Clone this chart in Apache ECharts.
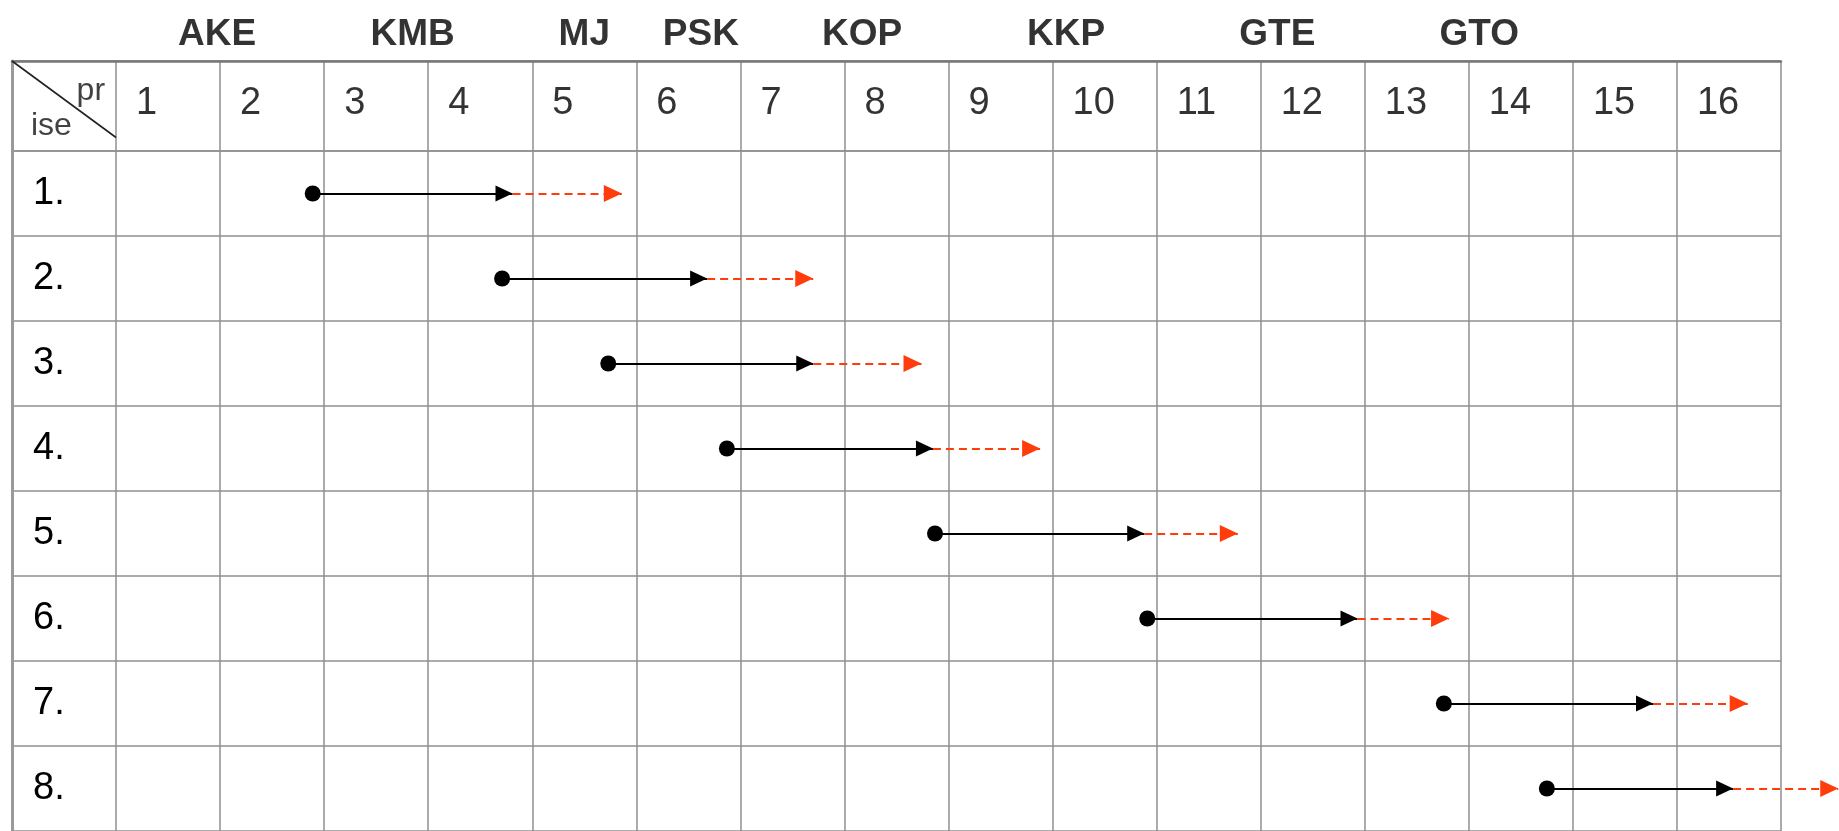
<!DOCTYPE html>
<html><head><meta charset="utf-8">
<script src="https://cdn.jsdelivr.net/npm/echarts@6/dist/echarts.min.js"></script>
<style>html,body{margin:0;padding:0;background:#fff}#c{width:1839px;height:831px}</style>
</head><body><div id="c"></div>
<script>
// ---- data ----
const columns = ['1','2','3','4','5','6','7','8','9','10','11','12','13','14','15','16'];
const rows = ['1.','2.','3.','4.','5.','6.','7.','8.'];
const groupNames = ['AKE','KMB','MJ','PSK','KOP','KKP','GTE','GTO'];
const groupPos = [1.97, 3.85, 5.50, 6.62, 8.17, 10.13, 12.16, 14.10];
const startPos = [2.89, 4.71, 5.73, 6.87, 8.87, 10.91, 13.76, 14.75];
const plannedEnd = [4.81, 6.68, 7.70, 8.85, 10.88, 12.93, 15.77, 16.54];
const delayedEnd = [5.86, 7.70, 8.74, 9.88, 11.78, 13.81, 16.68, 17.55];
const cornerTop = 'pr';
const cornerBottom = 'ise';

// ---- chart ----
const FONT = '"Liberation Sans", Arial, sans-serif';
const GRID_LINE = { color: '#8f8f8f', width: 1.5 };
// square-box symbol: triangle whose tip sits exactly at the symbol centre
const ARROW = 'path://M-17,-17M17,17M0,0L8,17L-8,17Z';
const chart = echarts.init(document.getElementById('c'), null, { renderer: 'canvas' });

const xBase = {
  type: 'value', min: 0, max: columns.length + 1, interval: 1,
  axisTick: { show: false }, axisLabel: { show: false },
  splitLine: { show: true, lineStyle: GRID_LINE }
};

const option = {
  animation: false,
  backgroundColor: '#ffffff',
  grid: [
    { left: 12, right: 58, top: 61, height: 90 },
    { left: 12, right: 58, top: 151, height: 688 }
  ],
  xAxis: [
    Object.assign({}, xBase, { gridIndex: 0, position: 'top',
      axisLine: { show: true, onZero: false, lineStyle: { color: '#777', width: 2.5 } } }),
    Object.assign({}, xBase, { gridIndex: 1, axisLine: { show: false } })
  ],
  yAxis: [
    { type: 'value', gridIndex: 0, min: 0, max: 1, interval: 1, inverse: true,
      axisLine: { show: true, lineStyle: { color: '#9a9a9a', width: 3 } },
      axisTick: { show: false }, axisLabel: { show: false },
      splitLine: { show: true, lineStyle: GRID_LINE } },
    { type: 'category', gridIndex: 1, data: rows, inverse: true,
      axisLine: { show: true, lineStyle: { color: '#9a9a9a', width: 3 } },
      axisTick: { show: false },
      axisLabel: { inside: true, margin: 21, fontSize: 38, color: '#000',
        fontFamily: FONT, verticalAlign: 'middle', padding: [0, 0, 8, 0] },
      splitLine: { show: true, interval: 0, lineStyle: GRID_LINE } }
  ],
  series: [
    // column numbers
    { type: 'scatter', xAxisIndex: 0, yAxisIndex: 0, symbolSize: 0, silent: true,
      data: columns.map((c, i) => ({ value: [i + 1, 0.5], name: c })),
      label: { show: true, position: [0, 0], offset: [20, -2], formatter: p => p.name,
        align: 'left', verticalAlign: 'middle', fontSize: 38, color: '#000', fontFamily: FONT } },
    // group names above the table
    { type: 'scatter', xAxisIndex: 0, yAxisIndex: 0, symbolSize: 0, silent: true, clip: false,
      data: groupNames.map((g, i) => ({ value: [groupPos[i], 0], name: g })),
      label: { show: true, position: [0, 0], offset: [0, -26], formatter: p => p.name,
        align: 'center', verticalAlign: 'middle', fontSize: 37, fontWeight: 'bold',
        color: '#000', fontFamily: FONT } },
    // corner cell texts
    { type: 'scatter', xAxisIndex: 0, yAxisIndex: 0, symbolSize: 0, silent: true,
      data: [{ value: [1, 0], name: cornerTop }],
      label: { show: true, position: [0, 0], offset: [-11, 30], formatter: p => p.name,
        align: 'right', verticalAlign: 'middle', fontSize: 32, color: '#111', fontFamily: FONT } },
    { type: 'scatter', xAxisIndex: 0, yAxisIndex: 0, symbolSize: 0, silent: true,
      data: [{ value: [0, 1], name: cornerBottom }],
      label: { show: true, position: [0, 0], offset: [19, -25], formatter: p => p.name,
        align: 'left', verticalAlign: 'middle', fontSize: 32, color: '#111', fontFamily: FONT } },
    // corner diagonal
    { type: 'lines', coordinateSystem: 'cartesian2d', xAxisIndex: 0, yAxisIndex: 0, silent: true,
      symbol: 'none', lineStyle: { color: '#222', width: 1.6, opacity: 1 },
      data: [{ coords: [[0, 0], [1, 0.85]] }] },
    // planned part (black)
    { type: 'lines', coordinateSystem: 'cartesian2d', xAxisIndex: 1, yAxisIndex: 1, clip: false,
      symbol: ['none', ARROW], symbolSize: 34,
      lineStyle: { color: '#000', width: 2, opacity: 1 },
      data: rows.map((r, i) => ({ coords: [[startPos[i], i], [plannedEnd[i], i]] })) },
    // extension (red dashed)
    { type: 'lines', coordinateSystem: 'cartesian2d', xAxisIndex: 1, yAxisIndex: 1, clip: false,
      symbol: ['none', ARROW], symbolSize: 36,
      lineStyle: { color: '#ff3c0c', width: 2, type: [8, 5], opacity: 1 },
      data: rows.map((r, i) => ({ coords: [[plannedEnd[i], i], [delayedEnd[i], i]] })) },
    // start dots
    { type: 'scatter', xAxisIndex: 1, yAxisIndex: 1, symbol: 'circle', symbolSize: 16, clip: false,
      itemStyle: { color: '#000', opacity: 1 },
      data: rows.map((r, i) => [startPos[i], i]) }
  ]
};
chart.setOption(option);
</script>
</body></html>
